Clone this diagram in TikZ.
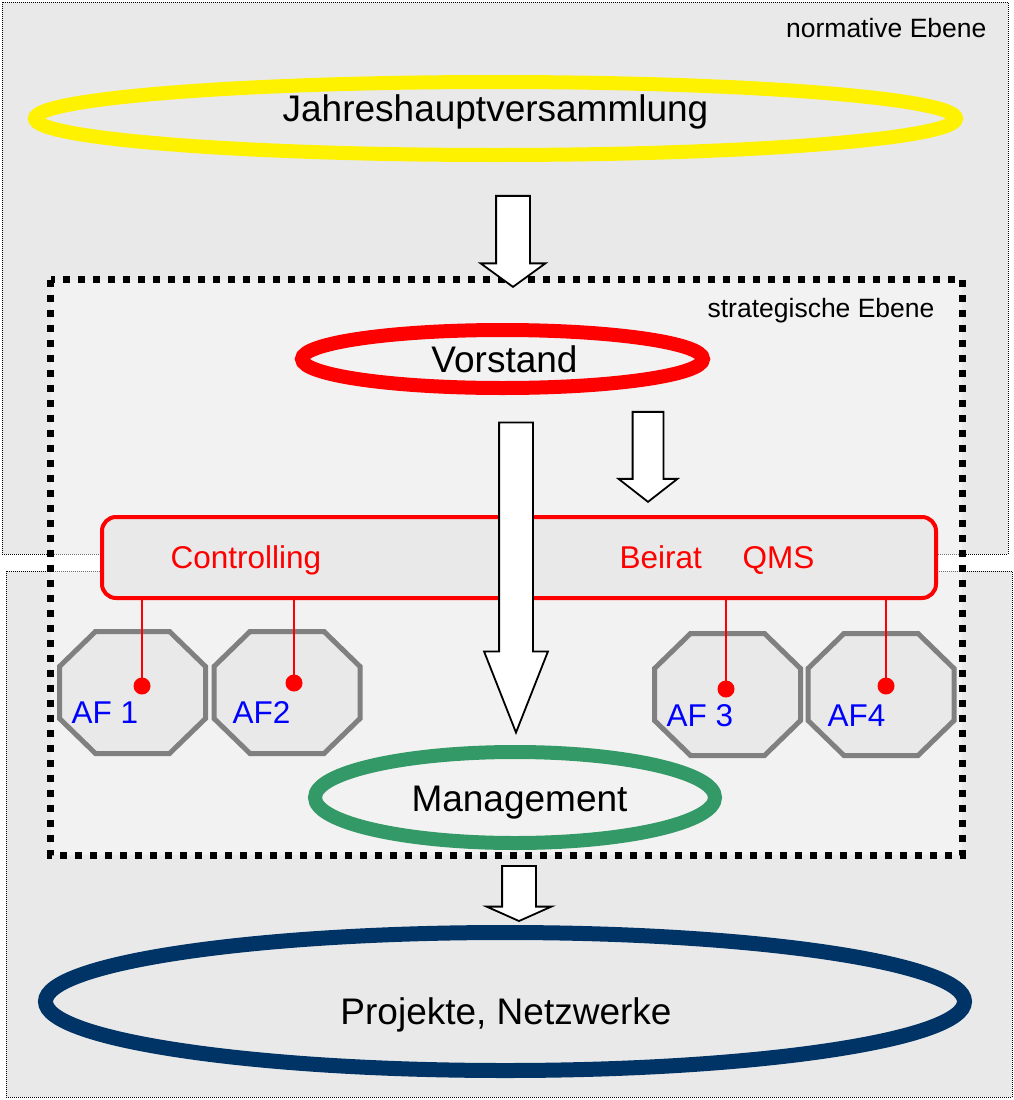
\documentclass[tikz,border=0pt]{standalone}
\usepackage{fontspec}
\setmainfont{Liberation Sans}
\usetikzlibrary{shapes.geometric,shapes.arrows}

\definecolor{panelgray}{RGB}{233,233,233}
\definecolor{mgmtgreen}{RGB}{51,153,102}
\definecolor{projnavy}{RGB}{0,51,102}
\definecolor{octgray}{RGB}{128,128,128}

\begin{document}
\begin{tikzpicture}[x=1pt,y=-1pt,
  level/.style={draw,densely dotted,line width=1pt,fill=panelgray},
  organ/.style={ellipse,draw,line width=14pt,inner sep=0pt},
  bigtext/.style={font=\fontsize{37}{44}\selectfont,anchor=base},
  midtext/.style={font=\fontsize{31.5}{38}\selectfont,anchor=base west},
  smalltext/.style={font=\fontsize{26.5}{32}\selectfont,anchor=base east},
  fatarrow/.style={single arrow,draw,fill=white,line width=1.8pt,rotate=-90,anchor=tip,inner xsep=0pt,inner ysep=16pt,single arrow head extend=15.5pt,minimum width=63pt},
  field/.style={rectangle,minimum width=146pt,minimum height=122pt,inner sep=0pt,outer sep=0pt},
  fieldline/.style={draw=octgray,line width=5pt,fill=panelgray},
  pin/.style={circle,fill=red,minimum size=17pt,inner sep=0pt}]
\useasboundingbox (0,0) rectangle (1014,1100);

% Ebenen
\draw[level] (2,2) rectangle (1008,554);
\draw[level] (6,571) rectangle (1012,1097);
\fill[white,fill opacity=0.45] (50.5,279.5) rectangle (962,855);
\draw[line width=7pt,dash pattern=on 7pt off 8pt] (50.5,279.5) rectangle (962,855);
\node[smalltext] (normative) at (990,37) {normative Ebene};
\node[smalltext] (strategic) at (938,317) {strategische Ebene};

% Organe
\node[organ,draw=yellow,minimum width=921pt,minimum height=73pt] (jhv) at (495.5,118.5) {};
\node[bigtext] (jhvtext) at (495.5,121) {Jahreshauptversammlung};
\node[organ,draw=red,minimum width=401pt,minimum height=58pt] (vorstand) at (502.5,359) {};
\node[bigtext] (vorstandtext) at (504.5,372) {Vorstand};
\node[organ,draw=mgmtgreen,minimum width=400pt,minimum height=91pt] (mgmt) at (515,797.5) {};
\node[bigtext] (mgmttext) at (519.5,811) {Management};
\node[organ,draw=projnavy,line width=15pt,minimum width=919pt,minimum height=138pt] (proj) at (505,1001.5) {};
\node[bigtext] (projtext) at (506,1024) {Projekte, Netzwerke};

% Gremien
\node[draw=red,line width=4pt,fill=panelgray,rounded corners=14pt,minimum width=834pt,minimum height=81pt] (gremien) at (519,557.5) {};
\node[midtext,text=red] (controlling) at (167,568) {Controlling};
\node[midtext,text=red] (beirat) at (616,568) {Beirat};
\node[midtext,text=red] (qms) at (739,568) {QMS};

% Arbeitsfelder
\node[field] (af1) at (132.5,692.5) {};
\node[field] (af2) at (287,692.5) {};
\node[field] (af3) at (727.5,694.5) {};
\node[field] (af4) at (881,694.5) {};
\foreach \f in {af1,af2,af3,af4}
  \draw[fieldline] ([xshift=36pt]\f.north west) -- ([xshift=-36pt]\f.north east)
    -- ([yshift=-35pt]\f.north east) -- ([yshift=35pt]\f.south east)
    -- ([xshift=-36pt]\f.south east) -- ([xshift=36pt]\f.south west)
    -- ([yshift=35pt]\f.south west) -- ([yshift=-35pt]\f.north west) -- cycle;
\node[pin] (pin1) at (142,686) {};
\node[pin] (pin2) at (294,683) {};
\node[pin] (pin3) at (726,689) {};
\node[pin] (pin4) at (886,686) {};
\foreach \p in {pin1,pin2,pin3,pin4}
  \draw[red,line width=2pt] (gremien.south -| \p) -- (\p.center);
\node[midtext,text=blue] (af1text) at (68,723) {AF 1};
\node[midtext,text=blue] (af2text) at (229,723) {AF2};
\node[midtext,text=blue] (af3text) at (663,726) {AF 3};
\node[midtext,text=blue] (af4text) at (824,726) {AF4};

% Pfeile
\node[fatarrow,minimum height=91pt,single arrow tip angle=108] (jhvdown) at (513,288) {};
\node[fatarrow,minimum height=310pt,minimum width=62pt,single arrow head extend=15pt,single arrow tip angle=43] (vorstanddown) at (516,735) {};
\node[fatarrow,minimum height=90pt,inner ysep=14.5pt,single arrow head extend=14pt,minimum width=57pt,single arrow tip angle=104] (beiratdown) at (648,503) {};
\node[fatarrow,minimum height=55pt,single arrow tip angle=132] (mgmtdown) at (519,922) {};
\end{tikzpicture}
\end{document}
